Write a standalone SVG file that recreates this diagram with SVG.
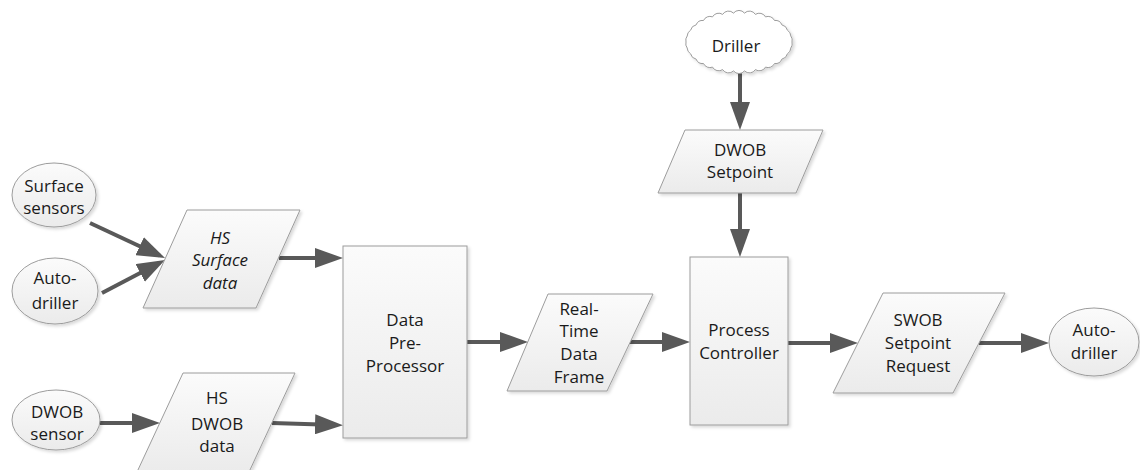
<svg xmlns="http://www.w3.org/2000/svg" width="1140" height="470" viewBox="0 0 1140 470">
<style>
  .shape { fill: url(#g); stroke: #9c9c9c; stroke-width: 1; filter: url(#sh); }
  .t { font-family: "Open Sans", "Liberation Sans", sans-serif; font-size: 17px; fill: #1a1a1a; text-anchor: middle; }
  .it { font-style: italic; }
  .c { stroke: #595959; stroke-width: 4; fill: none; marker-end: url(#ah); }
</style>
<defs>
  <linearGradient id="g" x1="0" y1="0" x2="0" y2="1">
    <stop offset="0" stop-color="#fbfbfb"/>
    <stop offset="1" stop-color="#ebebeb"/>
  </linearGradient>
  <filter id="sh" x="-10%" y="-10%" width="130%" height="130%">
    <feDropShadow dx="2" dy="2" stdDeviation="1.5" flood-color="#000" flood-opacity="0.15"/>
  </filter>
  <marker id="ah" markerUnits="userSpaceOnUse" markerWidth="28" markerHeight="20" refX="22" refY="10" orient="auto">
    <path d="M0,0 L28,10 L0,20 z" fill="#595959"/>
  </marker>
</defs>
<rect width="1140" height="470" fill="#fff"/>

<g id="connectors">
  <line class="c" x1="90" y1="223" x2="159.6" y2="255.5"/>
  <line class="c" x1="102" y1="293" x2="159.7" y2="262.8"/>
  <line class="c" x1="279" y1="258" x2="337" y2="258"/>
  <line class="c" x1="100" y1="423" x2="154" y2="423"/>
  <line class="c" x1="272" y1="423" x2="337" y2="425"/>
  <line class="c" x1="467" y1="342" x2="522" y2="342"/>
  <line class="c" x1="630" y1="342" x2="684" y2="342"/>
  <line class="c" x1="740" y1="72" x2="740" y2="124"/>
  <line class="c" x1="740" y1="193" x2="740" y2="251"/>
  <line class="c" x1="788" y1="343" x2="852" y2="343"/>
  <line class="c" x1="979" y1="343" x2="1043" y2="343"/>
</g>

<g id="surface-sensors">
  <ellipse class="shape" cx="54" cy="195" rx="42" ry="32"/>
  <text class="t" x="54" y="192">Surface</text>
  <text class="t" x="54" y="214">sensors</text>
</g>
<g id="auto-driller-in">
  <ellipse class="shape" cx="55" cy="291" rx="43" ry="33"/>
  <text class="t" x="55" y="284">Auto-</text>
  <text class="t" x="55" y="309">driller</text>
</g>
<g id="dwob-sensor">
  <ellipse class="shape" cx="56" cy="420" rx="44" ry="30"/>
  <text class="t" x="57" y="418">DWOB</text>
  <text class="t" x="57" y="440">sensor</text>
</g>
<g id="hs-surface-data">
  <polygon class="shape" points="187,210 300,210 256,308 143,308"/>
  <text class="t it" x="220" y="244">HS</text>
  <text class="t it" x="220" y="266">Surface</text>
  <text class="t it" x="220" y="289">data</text>
</g>
<g id="hs-dwob-data">
  <polygon class="shape" points="183,373 295,373 249,472 137,472"/>
  <text class="t" x="217" y="404">HS</text>
  <text class="t" x="217" y="430">DWOB</text>
  <text class="t" x="217" y="452">data</text>
</g>
<g id="data-pre-processor">
  <rect class="shape" x="343" y="246" width="124" height="192"/>
  <text class="t" x="405" y="326">Data</text>
  <text class="t" x="405" y="349">Pre-</text>
  <text class="t" x="405" y="372">Processor</text>
</g>
<g id="real-time-data-frame">
  <polygon class="shape" points="548,294 653,294 607,391 507,391"/>
  <text class="t" x="579" y="315">Real-</text>
  <text class="t" x="579" y="337">Time</text>
  <text class="t" x="579" y="360">Data</text>
  <text class="t" x="579" y="383">Frame</text>
</g>
<g id="driller">
  <path class="shape" style="fill:#fff" d="M792,42 A7,7 0 0 1 790.8,48 A7,7 0 0 1 787.4,53.8 A7,7 0 0 1 781.9,59.1 A7,7 0 0 1 774.5,63.5 A7,7 0 0 1 765.5,67.1 A7,7 0 0 1 755.4,69.6 A7,7 0 0 1 744.5,70.9 A7,7 0 0 1 733.5,70.9 A7,7 0 0 1 722.6,69.6 A7,7 0 0 1 712.5,67.1 A7,7 0 0 1 703.5,63.5 A7,7 0 0 1 696.1,59.1 A7,7 0 0 1 690.6,53.8 A7,7 0 0 1 687.2,48 A7,7 0 0 1 686,42 A7,7 0 0 1 687.2,36 A7,7 0 0 1 690.6,30.2 A7,7 0 0 1 696.1,24.9 A7,7 0 0 1 703.5,20.5 A7,7 0 0 1 712.5,16.9 A7,7 0 0 1 722.6,14.4 A7,7 0 0 1 733.5,13.1 A7,7 0 0 1 744.5,13.1 A7,7 0 0 1 755.4,14.4 A7,7 0 0 1 765.5,16.9 A7,7 0 0 1 774.5,20.5 A7,7 0 0 1 781.9,24.9 A7,7 0 0 1 787.4,30.2 A7,7 0 0 1 790.8,36 A7,7 0 0 1 792,42 z"/>
  <text class="t" x="736" y="52">Driller</text>
</g>
<g id="dwob-setpoint">
  <polygon class="shape" points="685,130 823,130 796,193 658,193"/>
  <text class="t" x="740" y="156">DWOB</text>
  <text class="t" x="740" y="178">Setpoint</text>
</g>
<g id="process-controller">
  <rect class="shape" x="690" y="257" width="98" height="168"/>
  <text class="t" x="739" y="336">Process</text>
  <text class="t" x="739" y="359">Controller</text>
</g>
<g id="swob-setpoint-request">
  <polygon class="shape" points="883,293 1005,293 953,393 833,393"/>
  <text class="t" x="918" y="326">SWOB</text>
  <text class="t" x="918" y="349">Setpoint</text>
  <text class="t" x="918" y="372">Request</text>
</g>
<g id="auto-driller-out">
  <ellipse class="shape" cx="1094" cy="342" rx="45" ry="34"/>
  <text class="t" x="1094" y="336">Auto-</text>
  <text class="t" x="1094" y="359">driller</text>
</g>
</svg>
